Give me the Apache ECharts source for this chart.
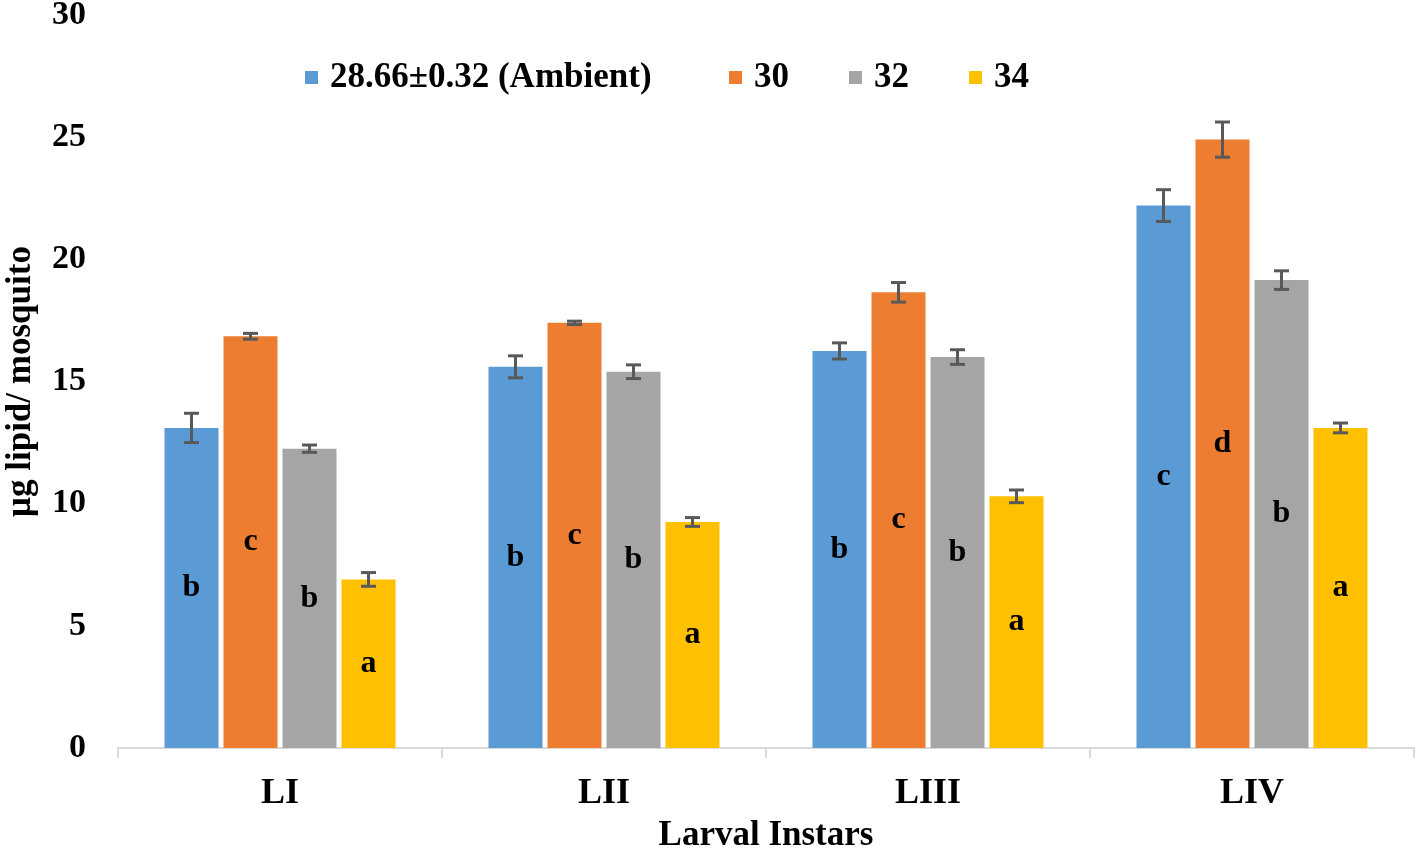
<!DOCTYPE html>
<html>
<head>
<meta charset="utf-8">
<script src="https://cdn.jsdelivr.net/npm/echarts@6/dist/echarts.min.js"></script>
<style>html,body{margin:0;padding:0;background:#fff}#c{width:1418px;height:849px}</style>
</head>
<body>
<div id="c"></div>
<script>
const categories = ['LI', 'LII', 'LIII', 'LIV'];
const seriesNames = ['28.66±0.32 (Ambient)', '30', '32', '34'];
const ambientValues = [13.1, 15.6, 16.25, 22.2];
const t30Values = [16.85, 17.4, 18.65, 24.9];
const t32Values = [12.25, 15.4, 16.0, 19.15];
const t34Values = [6.9, 9.25, 10.3, 13.1];
const ambientErr = [0.6, 0.45, 0.33, 0.65];
const t30Err = [0.12, 0.07, 0.4, 0.72];
const t32Err = [0.15, 0.28, 0.3, 0.38];
const t34Err = [0.28, 0.18, 0.26, 0.2];
const ambientLetters = ['b', 'b', 'b', 'c'];
const t30Letters = ['c', 'c', 'c', 'd'];
const t32Letters = ['b', 'b', 'b', 'b'];
const t34Letters = ['a', 'a', 'a', 'a'];
const yTicks = [0, 5, 10, 15, 20, 25, 30];

const values = [ambientValues, t30Values, t32Values, t34Values];
const errs = [ambientErr, t30Err, t32Err, t34Err];
const letters = [ambientLetters, t30Letters, t32Letters, t34Letters];
const colors = ['#5B9BD5', '#ED7D31', '#A5A5A5', '#FFC000'];
const FONT = '"Liberation Serif", "Times New Roman", serif';
const BAR_W = 54, GAP = 5;

const chart = echarts.init(document.getElementById('c'), null, {renderer: 'canvas'});

const series = [];
values.forEach((vals, i) => {
  series.push({
    name: seriesNames[i],
    type: 'bar',
    barWidth: BAR_W,
    barGap: (GAP / BAR_W * 100) + '%',
    itemStyle: {color: colors[i]},
    data: vals.map((v, j) => ({value: v, letter: letters[i][j]})),
    label: {
      show: true,
      position: 'inside',
      formatter: p => p.data.letter,
      color: '#000',
      fontFamily: FONT,
      fontWeight: 'bold',
      fontSize: 32
    },
    z: 2
  });
});
values.forEach((vals, i) => {
  const offset = -(4 * BAR_W + 3 * GAP) / 2 + BAR_W / 2 + i * (BAR_W + GAP);
  series.push({
    type: 'custom',
    name: 'err' + i,
    data: vals.map((v, j) => [j, v - errs[i][j], v + errs[i][j]]),
    encode: {x: 0, y: [1, 2]},
    z: 5,
    renderItem: function (params, api) {
      const x = api.coord([api.value(0), 0])[0] + offset;
      const lo = api.coord([api.value(0), api.value(1)])[1];
      const hi = api.coord([api.value(0), api.value(2)])[1];
      const hw = 7.5;
      const st = {stroke: '#595959', lineWidth: 3, fill: null};
      return {
        type: 'group',
        children: [
          {type: 'line', shape: {x1: x, y1: hi, x2: x, y2: lo}, style: st},
          {type: 'line', shape: {x1: x - hw, y1: hi, x2: x + hw, y2: hi}, style: st},
          {type: 'line', shape: {x1: x - hw, y1: lo, x2: x + hw, y2: lo}, style: st}
        ]
      };
    }
  });
});

const legendBase = {
  top: 55,
  icon: 'rect',
  itemWidth: 13,
  itemHeight: 13,
  itemGap: 60,
  textStyle: {fontFamily: FONT, fontWeight: 'bold', fontSize: 35, color: '#000', padding: [0, 0, 0, 7]}
};

chart.setOption({
  animation: false,
  backgroundColor: '#fff',
  grid: {left: 118, right: 4, top: 15, bottom: 101, containLabel: false, outerBoundsMode: 'none'},
  legend: [
    Object.assign({}, legendBase, {data: [seriesNames[0]], left: 300}),
    Object.assign({}, legendBase, {data: seriesNames.slice(1), left: 724})
  ],
  xAxis: {
    type: 'category',
    data: categories,
    name: 'Larval Instars',
    nameLocation: 'middle',
    nameGap: 70,
    nameTextStyle: {fontFamily: FONT, fontWeight: 'bold', fontSize: 35, color: '#000'},
    axisLine: {lineStyle: {color: '#D9D9D9', width: 2}},
    axisTick: {show: true, length: 10, lineStyle: {color: '#D9D9D9', width: 2}},
    axisLabel: {fontFamily: FONT, fontWeight: 'bold', fontSize: 36, color: '#000', margin: 28}
  },
  yAxis: {
    type: 'value',
    min: 0,
    max: 30,
    interval: 5,
    name: 'μg lipid/ mosquito',
    nameLocation: 'middle',
    nameGap: 80,
    nameTextStyle: {fontFamily: FONT, fontWeight: 'bold', fontSize: 35, color: '#000'},
    axisLine: {show: false},
    axisTick: {show: false},
    splitLine: {show: false},
    axisLabel: {fontFamily: FONT, fontWeight: 'bold', fontSize: 34, color: '#000', margin: 32,
      formatter: v => yTicks.includes(v) ? String(v) : ''}
  },
  series: series
});
</script>
</body>
</html>
